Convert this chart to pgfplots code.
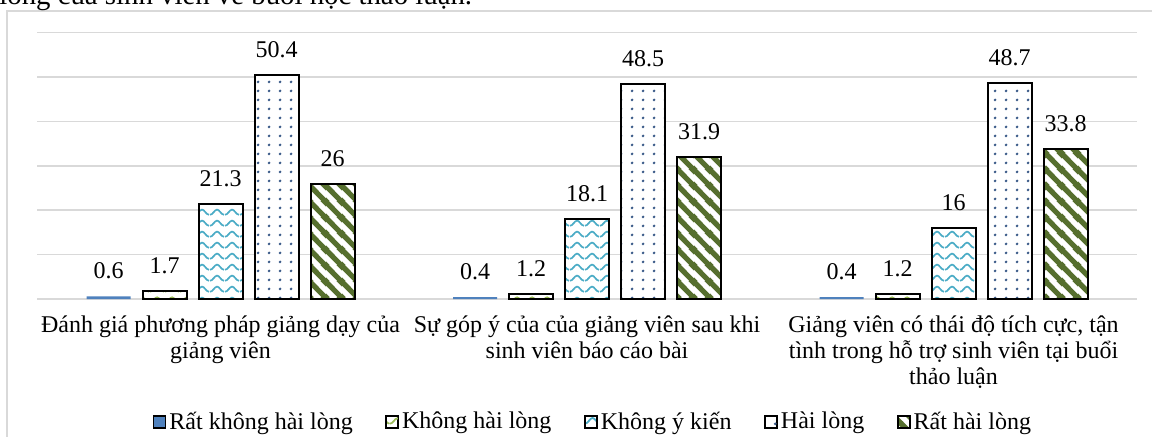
\documentclass[border=0pt]{standalone}
\usepackage{fontspec}
\setmainfont{Liberation Serif}
\usepackage{pgfplots}
\pgfplotsset{compat=1.18}
\usetikzlibrary{patterns}
\definecolor{c1}{HTML}{4F81BD}
\definecolor{c2}{HTML}{9BBB59}
\definecolor{c3}{HTML}{4BACC6}
\definecolor{c4}{HTML}{3A5A88}
\definecolor{c5}{HTML}{566F2E}
\definecolor{gridc}{HTML}{D9D9D9}
\definecolor{framec}{HTML}{D9D9D9}

\pgfdeclarepatternformonly{xwaves}{\pgfqpoint{0bp}{0bp}}{\pgfqpoint{7.5bp}{5.5bp}}{\pgfqpoint{7.5bp}{5.5bp}}{%
  \pgfsetlinewidth{0.9bp}%
  \pgfpathmoveto{\pgfqpoint{0bp}{1.2bp}}%
  \pgfpathcurveto{\pgfqpoint{1.6bp}{1.2bp}}{\pgfqpoint{2.4bp}{4.0bp}}{\pgfqpoint{3.75bp}{4.0bp}}%
  \pgfpathcurveto{\pgfqpoint{5.1bp}{4.0bp}}{\pgfqpoint{5.9bp}{1.2bp}}{\pgfqpoint{7.5bp}{1.2bp}}%
  \pgfusepath{stroke}}
\pgfdeclarepatternformonly{xdots}{\pgfqpoint{0bp}{0bp}}{\pgfqpoint{5.5bp}{4.5bp}}{\pgfqpoint{5.5bp}{4.5bp}}{%
  \pgfpathcircle{\pgfqpoint{2.75bp}{2.25bp}}{0.8bp}\pgfusepath{fill}}
\pgfdeclarepatternformonly{xstripes}{\pgfqpoint{0bp}{0bp}}{\pgfqpoint{7.75bp}{7.75bp}}{\pgfqpoint{7.75bp}{7.75bp}}{%
  \pgfsetlinewidth{2.7bp}%
  \pgfpathmoveto{\pgfqpoint{-1bp}{8.75bp}}\pgfpathlineto{\pgfqpoint{8.75bp}{-1bp}}%
  \pgfpathmoveto{\pgfqpoint{-2bp}{2bp}}\pgfpathlineto{\pgfqpoint{2bp}{-2bp}}%
  \pgfpathmoveto{\pgfqpoint{5.75bp}{9.75bp}}\pgfpathlineto{\pgfqpoint{9.75bp}{5.75bp}}%
  \pgfusepath{stroke}}

\begin{document}
\begin{tikzpicture}
\begin{scope}[x=0.5bp,y=-0.5bp]
\draw[framec, line width=0.9bp] (7,600) -- (7,11) -- (1300,11);
\node[anchor=base west, inner sep=0pt, font=\fontsize{14.4bp}{17bp}\selectfont] at (-1,4.5) {lòng của sinh viên về buổi học thảo luận.};
\end{scope}
\begin{axis}[
  at={(18.625bp,-149.5bp)}, anchor=south west,
  scale only axis, width=549.75bp, height=133.2bp,
  xmin=-0.5, xmax=2.5, ymin=0, ymax=60,
  axis line style={draw=none},
  ytick={0,10,...,60}, yticklabels={},
  ymajorgrids, grid style={gridc, line width=0.75bp},
  xtick={0,1,2}, major tick length=0pt,
  xticklabels={{Đánh giá phương pháp giảng dạy của\\giảng viên},{Sự góp ý của của giảng viên sau khi\\sinh viên báo cáo bài},{Giảng viên có thái độ tích cực, tận\\tình trong hỗ trợ sinh viên tại buổi\\thảo luận}},
  xticklabel style={align=center, font=\fontsize{12bp}{13bp}\selectfont, anchor=north, inner sep=0pt, yshift=-8bp},
  ybar, bar width=22bp,
  nodes near coords,
  /pgf/number format/assume math mode=true,
  every node near coord/.append style={font=\fontsize{12bp}{14bp}\selectfont, text=black, anchor=base, inner sep=0pt, yshift=8.75bp},
  legend columns=5,
  legend style={at={(0.5059,-0.4617)}, anchor=center, draw=none, fill=none, font=\fontsize{12bp}{14bp}\selectfont, nodes={inner xsep=1.5bp, inner ysep=0pt, anchor=west}, /tikz/every even column/.append style={column sep=15bp}},
  legend image code/.code={\draw[#1, line width=0.7bp] (0bp,-3bp) rectangle (6bp,3bp);},
  clip=false,
]
\addplot[bar shift=-56bp, fill=c1, draw=none] coordinates {(0,0.6) (1,0.4) (2,0.4)};
\addplot[bar shift=-28bp, draw=black, line width=1bp, preaction={fill=white}, pattern=xwaves, pattern color=c2] coordinates {(0,1.7) (1,1.2) (2,1.2)};
\addplot[bar shift=0bp, draw=black, line width=1bp, preaction={fill=white}, pattern=xwaves, pattern color=c3] coordinates {(0,21.3) (1,18.1) (2,16)};
\addplot[bar shift=28bp, draw=black, line width=1bp, preaction={fill=white}, pattern=xdots, pattern color=c4] coordinates {(0,50.4) (1,48.5) (2,48.7)};
\addplot[bar shift=56bp, draw=black, line width=1bp, preaction={fill=white}, pattern=xstripes, pattern color=c5] coordinates {(0,26) (1,31.9) (2,33.8)};
\legend{Rất không hài lòng, Không hài lòng, Không ý kiến, Hài lòng, Rất hài lòng}
\end{axis}
\begin{scope}[x=0.5bp,y=-0.5bp]
\pgfresetboundingbox
\useasboundingbox (0,0) rectangle (1152,437);
\end{scope}
\end{tikzpicture}
\end{document}
